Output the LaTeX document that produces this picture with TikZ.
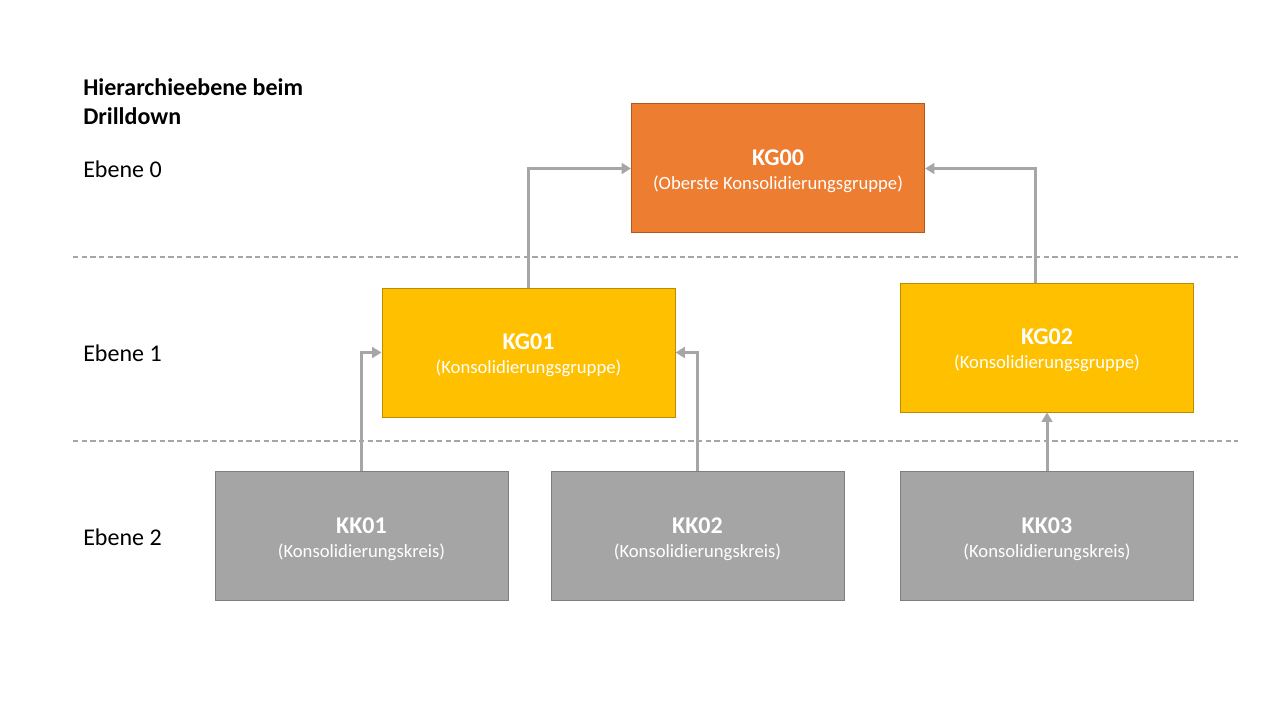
\documentclass[tikz,border=0pt]{standalone}
\usepackage{fontspec}
\setmainfont{Carlito}
\usetikzlibrary{arrows.meta,calc}
\definecolor{orangeF}{HTML}{ED7D31}
\definecolor{orangeD}{HTML}{AE5A21}
\definecolor{goldF}{HTML}{FFC000}
\definecolor{goldD}{HTML}{BC8C00}
\definecolor{greyF}{HTML}{A5A5A5}
\definecolor{greyD}{HTML}{7F7F7F}
\definecolor{lineC}{HTML}{A6A6A6}
\begin{document}
\begin{tikzpicture}[x=0.75pt,y=-0.75pt,
  box/.style={draw, line width=0.75pt, minimum width=219.75pt, minimum height=96.75pt, inner sep=0pt, text=white, font=\fontsize{14}{17.25}\selectfont},
  kgtop/.style={box, fill=orangeF, draw=orangeD},
  kgmid/.style={box, fill=goldF, draw=goldD},
  kkbox/.style={box, fill=greyF, draw=greyD},
  conn/.style={draw=lineC, line width=2.25pt, -{Triangle[length=7pt,width=8pt]}},
  sep/.style={draw=lineC, line width=1pt, dash pattern=on 4pt off 2.5pt},
  lvl/.style={anchor=west, inner sep=0pt, font=\fontsize{18}{22}\selectfont}
]
\useasboundingbox (0,0) rectangle (1280,720);
\newcommand{\boxtext}[2]{\begin{tabular}{@{}c@{}}\rule{0pt}{18.9pt}{\fontsize{18}{21}\selectfont\bfseries #1}\\[0.8pt]#2\end{tabular}}

\coordinate (s1a) at (73,257);
\coordinate (s1b) at (1238,257);
\coordinate (s2a) at (73,441);
\coordinate (s2b) at (1238,441);
\draw[sep] (s1a) -- (s1b);
\draw[sep] (s2a) -- (s2b);

\node[lvl, font=\fontsize{18}{21.75}\selectfont\bfseries, align=left, anchor=north west] (title) at (83,78) {Hierarchieebene beim\\Drilldown};
\node[lvl] (e0) at (83,169) {Ebene 0};
\node[lvl] (e1) at (83,353) {Ebene 1};
\node[lvl] (e2) at (83,537) {Ebene 2};

\node[kgtop] (kg00) at (778,168.5) {\boxtext{KG00}{(Oberste Konsolidierungsgruppe)}};
\node[kgmid] (kg01) at (528.5,352.5) {\boxtext{KG01}{(Konsolidierungsgruppe)}};
\node[kgmid] (kg02) at (1047,347.5) {\boxtext{KG02}{(Konsolidierungsgruppe)}};
\node[kkbox] (kk01) at (361.5,536) {\boxtext{KK01}{(Konsolidierungskreis)}};
\node[kkbox] (kk02) at (697.5,536) {\boxtext{KK02}{(Konsolidierungskreis)}};
\node[kkbox] (kk03) at (1047,536) {\boxtext{KK03}{(Konsolidierungskreis)}};

\draw[conn] (kg01.north) |- (kg00.west);
\draw[conn] ([xshift=-9pt]kg02.north) |- (kg00.east);
\draw[conn] (kk01.north) |- (kg01.west);
\draw[conn] (kk02.north) |- (kg01.east);
\draw[conn] (kk03.north) -- (kg02.south);
\end{tikzpicture}
\end{document}
